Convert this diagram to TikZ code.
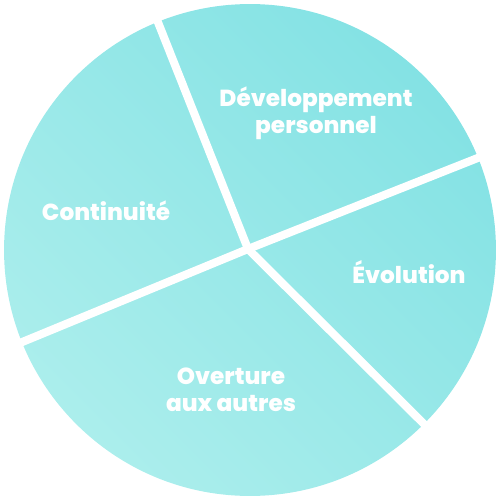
\documentclass[tikz,border=0pt]{standalone}
\usepackage{fontspec}
\setmainfont{Poppins}[BoldFont={Poppins ExtraBold}]
\usetikzlibrary{positioning}
\definecolor{AquaDeep}{HTML}{84E2E4}
\definecolor{AquaPale}{HTML}{ABEEEC}

\begin{document}
\begin{tikzpicture}[x=0.02cm, y=-0.02cm,
  disc/.style={circle, inner sep=0pt, minimum size=9.84cm,
               top color=AquaDeep, bottom color=AquaPale, shading angle=-45},
  divider/.style={draw=white, line width=4.6pt, shorten >=-6pt},
  label/.style={text=white, align=center, font=\fontsize{13.2}{15.3}\selectfont\bfseries}
]
  \useasboundingbox (0,0) rectangle (500,500);
  \node[disc] (disc) at (250,250) {};
  \coordinate (hub) at (248,249);

  % sector dividers
  \draw[divider] (hub) -- (disc.112);
  \draw[divider] (hub) -- (disc.22);
  \draw[divider] (hub) -- (disc.-45);
  \draw[divider] (hub) -- (disc.202);

  \node[label] (perso) at (316,113) {Développement\\personnel};
  \node[label] (conti) at (106,211) {Continuité};
  \node[label] (evol) at (409,272) {Évolution};
  \node[label] (ouvert) at (231,390) {Overture\\aux autres};
\end{tikzpicture}
\end{document}
